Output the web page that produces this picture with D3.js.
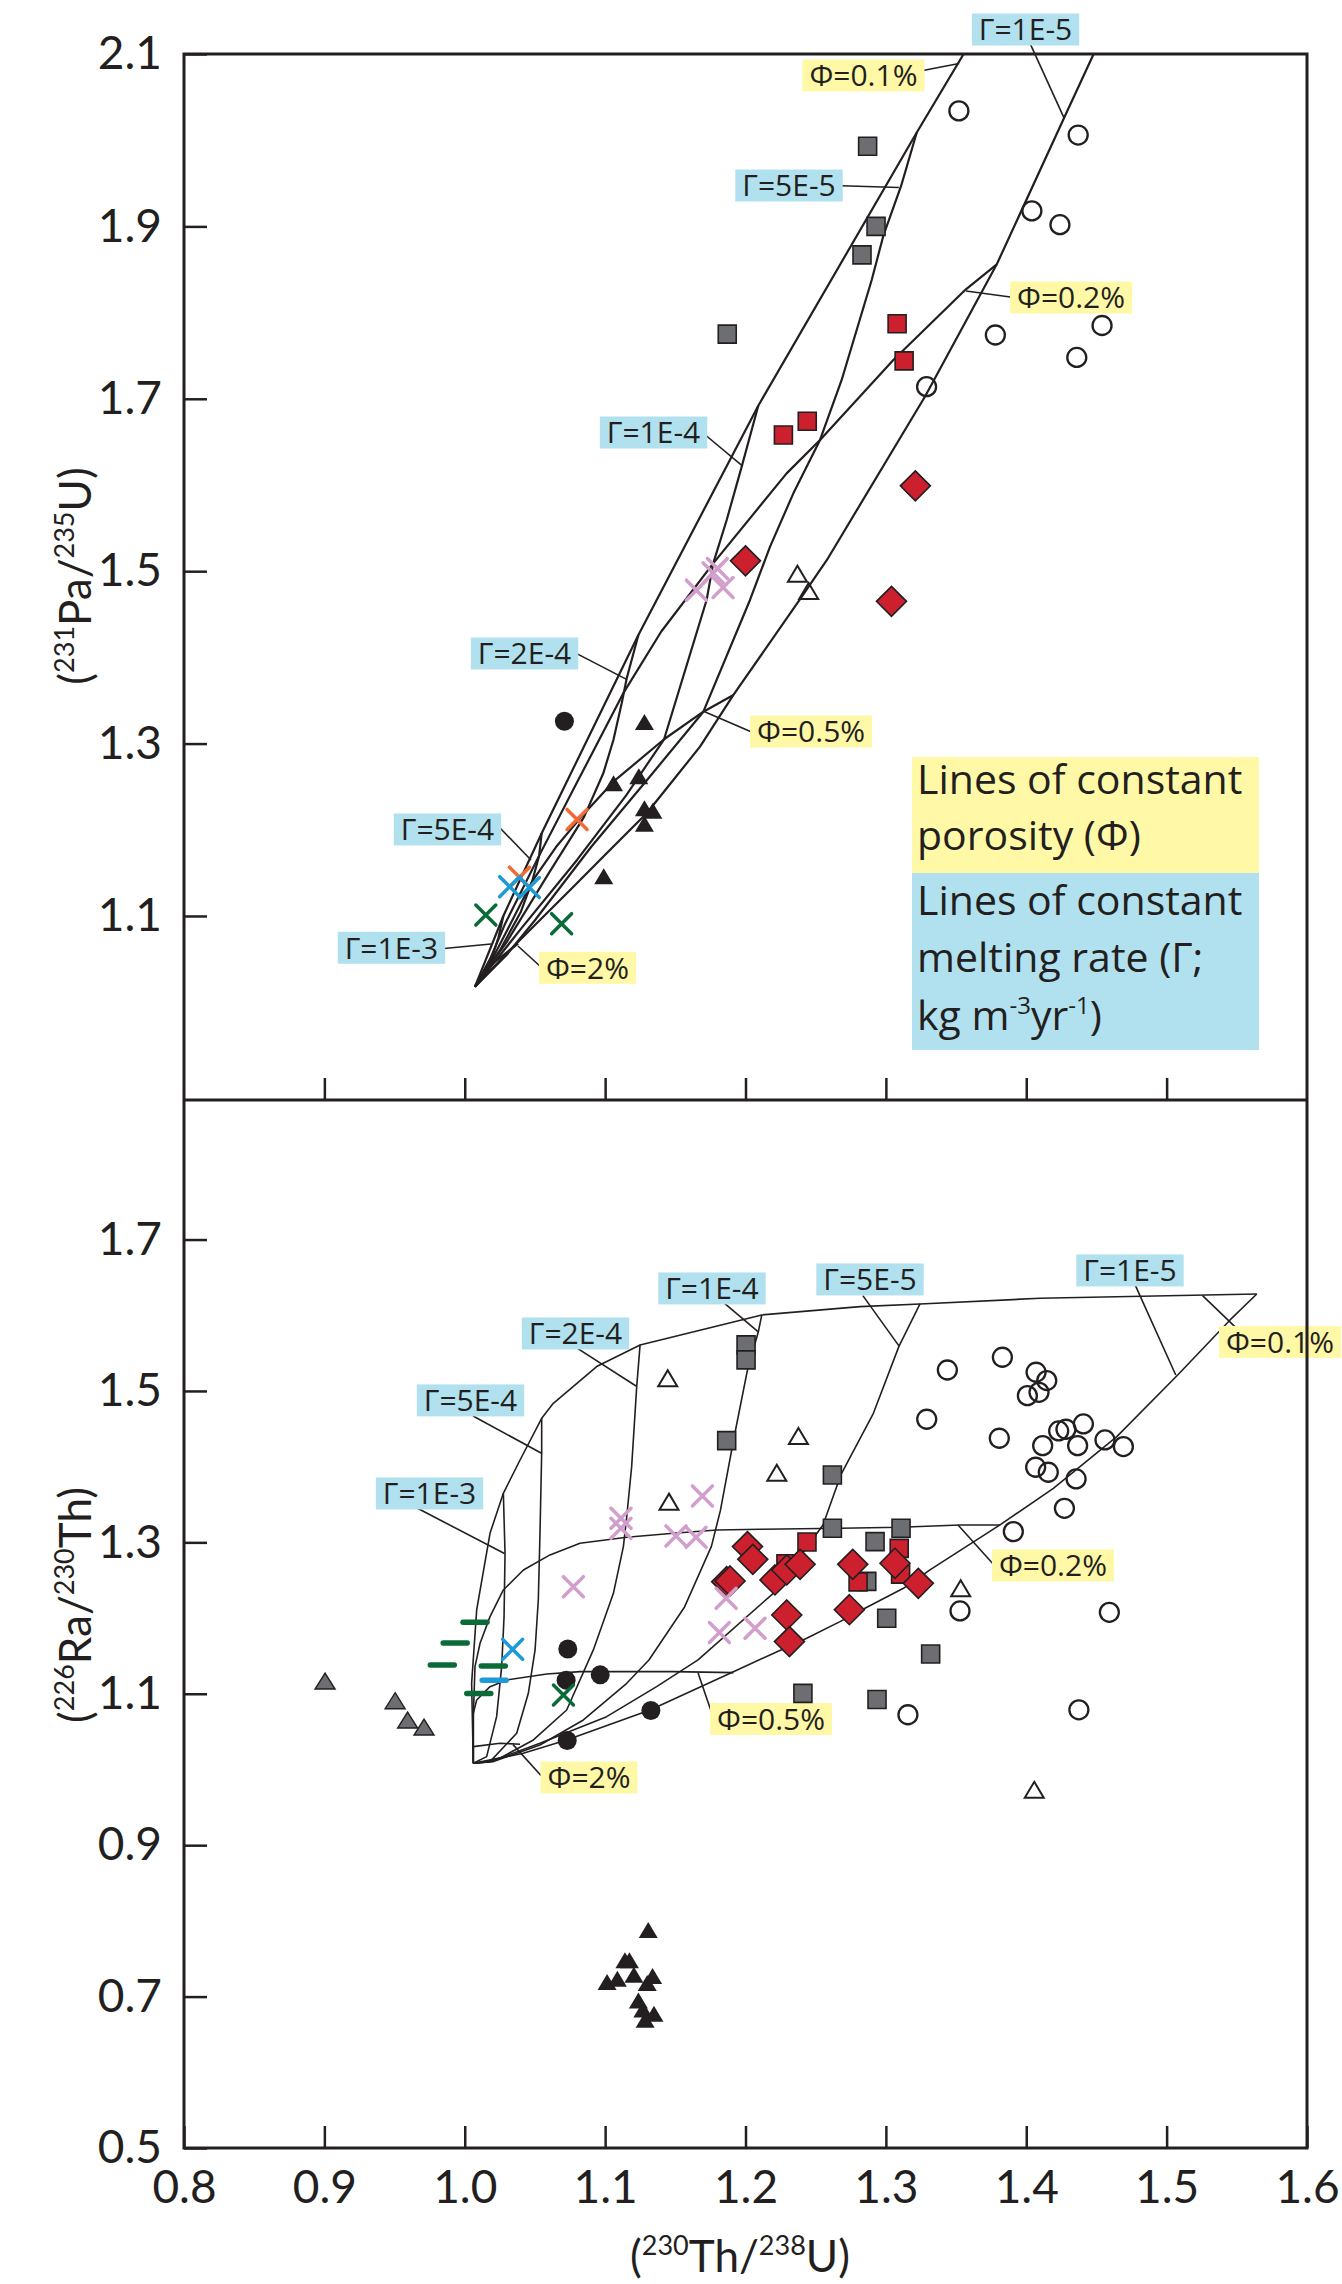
<!DOCTYPE html>
<html>
<head>
<meta charset="utf-8">
<script src="https://cdn.jsdelivr.net/npm/d3@7"></script>
<style>
body { margin: 0; background: #fff; }
svg { display: block; }
</style>
</head>
<body>
<div id="chart"></div>
<script>
// ticks
var xTicks = [0.8, 0.9, 1.0, 1.1, 1.2, 1.3, 1.4, 1.5, 1.6];
var topYTicks = [1.1, 1.3, 1.5, 1.7, 1.9, 2.1];
var botYTicks = [0.5, 0.7, 0.9, 1.1, 1.3, 1.5, 1.7];

// ---------- top panel: (231Pa/235U) vs (230Th/238U) ----------
var topOpenCircles = [[1.352,2.034],[1.437,2.006],[1.404,1.918],[1.424,1.902],[1.378,1.774],[1.454,1.785],[1.436,1.748],[1.329,1.714]];
var topGraySquares = [[1.287,1.993],[1.293,1.900],[1.283,1.867],[1.187,1.775]];
var topRedSquares = [[1.308,1.787],[1.313,1.744],[1.244,1.674],[1.227,1.658]];
var topRedDiamonds = [[1.200,1.512],[1.321,1.599],[1.304,1.465]];
var topOpenTriangles = [[1.237,1.497],[1.245,1.477]];
var topPinkCrosses = [[1.165,1.478],[1.180,1.503],[1.184,1.481],[1.177,1.498]];
var topBlackTriangles = [[1.128,1.325],[1.106,1.254],[1.124,1.262],[1.128,1.225],[1.134,1.222],[1.128,1.207],[1.099,1.146]];
var topBlackCircles = [[1.071,1.326]];
var topOrangeCrosses = [[1.080,1.212],[1.039,1.145]];
var topBlueCrosses = [[1.032,1.134],[1.046,1.133]];
var topGreenCrosses = [[1.015,1.101],[1.069,1.091]];

// model curves, top panel
var topPhi01 = [[1.0073,1.018],[1.0275,1.100],[1.0548,1.196],[1.1237,1.426],[1.2091,1.692],[1.3220,2.009],[1.3554,2.100],[1.42,2.275]];
var topPhi02 = [[1.0073,1.018],[1.018,1.05],[1.0285,1.09],[1.053,1.17],[1.08,1.255],[1.1135,1.36],[1.14,1.43],[1.177,1.509],[1.2293,1.6135],[1.2531,1.6522],[1.3053,1.745],[1.357,1.827],[1.379,1.856]];
var topPhi05 = [[1.0073,1.018],[1.018,1.045],[1.026,1.07],[1.048,1.14],[1.065,1.18],[1.083,1.215],[1.1059,1.2558],[1.142,1.305],[1.170,1.337],[1.1914,1.3564]];
var topPhi2 = [[1.0073,1.018],[1.02,1.045],[1.038,1.068]];
var topG1e5 = [[1.0073,1.018],[1.0299,1.0567],[1.0536,1.0954],[1.0774,1.1340],[1.1011,1.1727],[1.1296,1.2191],[1.1486,1.2578],[1.1676,1.2964],[1.1914,1.3564],[1.239,1.468],[1.258,1.513],[1.328,1.703],[1.379,1.856],[1.427,2.026],[1.448,2.100],[1.48,2.22]];
var topG5e5 = [[1.0073,1.018],[1.03,1.055],[1.05,1.095],[1.09,1.18],[1.13,1.258],[1.170,1.337],[1.2032,1.4666],[1.2175,1.5285],[1.2341,1.5903],[1.2531,1.6522],[1.2685,1.7218],[1.2899,1.8378],[1.2982,1.8892],[1.3109,1.9472],[1.3220,2.009]];
var topG1e4 = [[1.0073,1.018],[1.04,1.085],[1.08,1.165],[1.115,1.24],[1.142,1.305],[1.1723,1.4666],[1.177,1.509],[1.1866,1.5594],[1.1973,1.6213],[1.2091,1.692]];
var topG2e4 = [[1.0073,1.018],[1.03,1.07],[1.06,1.15],[1.085,1.215],[1.0987,1.2655],[1.1059,1.3042],[1.1118,1.3467],[1.1154,1.3757],[1.1237,1.426]];
var topG5e4 = [[1.0073,1.018],[1.025,1.06],[1.040,1.105],[1.048,1.14],[1.053,1.17],[1.0548,1.196]];
var topG1e3 = [[1.0073,1.018],[1.018,1.045],[1.024,1.075],[1.0275,1.100]];

// ---------- bottom panel: (226Ra/230Th) vs (230Th/238U) ----------
var botOpenCircles = [[1.383,1.5445],[1.3438,1.5277],[1.407,1.5247],[1.4146,1.5137],[1.4091,1.4982],[1.4008,1.4938],[1.3291,1.4626],[1.3808,1.4375],[1.4231,1.4472],[1.4283,1.4494],[1.4407,1.4564],[1.4117,1.4278],[1.4366,1.4278],[1.4561,1.4353],[1.4692,1.4265],[1.4067,1.3992],[1.4157,1.3926],[1.4355,1.3838],[1.4272,1.345],[1.3908,1.3142],[1.3528,1.2094],[1.4592,1.2076],[1.4375,1.0788],[1.3157,1.0723]];
var botGraySquares = [[1.2004,1.5608],[1.2004,1.541],[1.1866,1.4344],[1.2619,1.389],[1.2619,1.3186],[1.3108,1.3186],[1.2923,1.301],[1.2864,1.2484],[1.3006,1.1997],[1.3319,1.1525],[1.2409,1.1005],[1.2937,1.0924]];
var botRedSquares = [[1.2438,1.3005],[1.3095,1.292],[1.2802,1.2478],[1.2288,1.2717],[1.3105,1.258]];
var botRedDiamonds = [[1.2014,1.2944],[1.2052,1.2776],[1.1866,1.2481],[1.189,1.249],[1.221,1.2503],[1.2294,1.2635],[1.2389,1.271],[1.2764,1.271],[1.3065,1.2724],[1.3231,1.2459],[1.2294,1.2041],[1.2313,1.1689],[1.274,1.211]];
var botOpenTriangles = [[1.1446,1.5167],[1.2377,1.4406],[1.2223,1.3921],[1.1455,1.3538],[1.3533,1.2393],[1.4057,0.9731]];
var botPinkCrosses = [[1.1693,1.3613],[1.1113,1.3318],[1.1113,1.3186],[1.1505,1.3085],[1.1648,1.3067],[1.0774,1.2415],[1.1862,1.2261],[1.1814,1.1808],[1.2068,1.1865]];
var botBlackCircles = [[1.0734,1.1591],[1.0722,1.118],[1.0965,1.125],[1.1326,1.0778],[1.073,1.0382]];
var botBlackTriangles = [[1.1307,0.788],[1.1014,0.7192],[1.1087,0.7235],[1.1141,0.7479],[1.1173,0.7479],[1.1205,0.729],[1.1338,0.7273],[1.13,0.7181],[1.1237,0.6948],[1.1269,0.6828],[1.1348,0.6774],[1.1285,0.6693]];
var botGrayTriangles = [[0.9005,1.1168],[0.9504,1.0908],[0.9593,1.0653],[0.971,1.0561]];
var botGreenDashes = [[1.0073,1.1944],[0.9932,1.1672],[0.984,1.1381],[1.0203,1.1368],[1.01,1.1003]];
var botBlueDashes = [[1.021,1.1177]];
var botBlueCrosses = [[1.0341,1.1587]];
var botGreenCrosses = [[1.0703,1.0984]];

// model curves, bottom panel
var botPhi01 = [[1.0061,1.0082],[1.0049,1.1138],[1.0085,1.2107],[1.018,1.312],[1.0275,1.3648],[1.0394,1.4088],[1.0548,1.4639],[1.0631,1.4837],[1.094,1.5322],[1.1249,1.5608],[1.2116,1.6004],[1.2816,1.6114],[1.3243,1.6149],[1.4098,1.6224],[1.5642,1.6281]];
var botPhi02 = [[1.0061,1.0082],[1.0061,1.0698],[1.0073,1.1359],[1.0109,1.1667],[1.018,1.2019],[1.0275,1.2371],[1.0418,1.2635],[1.0607,1.2834],[1.0821,1.2988],[1.1154,1.3067],[1.1486,1.312],[1.1795,1.3164],[1.2104,1.3173],[1.2673,1.3186],[1.3101,1.3199],[1.3528,1.323],[1.3813,1.323]];
var botPhi05 = [[1.0061,1.0082],[1.0061,1.0742],[1.0085,1.0918],[1.018,1.1094],[1.0299,1.1182],[1.0584,1.1261],[1.0821,1.1292],[1.1154,1.1292],[1.1486,1.1292],[1.1914,1.1279]];
var botPhi2 = [[1.0061,1.0082],[1.0061,1.0302],[1.0251,1.0346],[1.0394,1.0333]];
var botG1e5 = [[1.0061,1.0082],[1.0417,1.0214],[1.0726,1.039],[1.132,1.0786],[1.1914,1.1292],[1.2436,1.1733],[1.2673,1.1953],[1.2851,1.2129],[1.3125,1.2393],[1.3314,1.2636],[1.3813,1.323],[1.4193,1.3714],[1.4645,1.4397],[1.5084,1.522],[1.5452,1.5938],[1.5642,1.6281]];
var botG5e5 = [[1.0061,1.0082],[1.018,1.0104],[1.0536,1.0346],[1.1011,1.0698],[1.1367,1.1094],[1.1662,1.1447],[1.2202,1.2334],[1.2552,1.323],[1.2679,1.389],[1.2911,1.4705],[1.3093,1.5589],[1.3243,1.6149]];
var botG1e4 = [[1.0061,1.0082],[1.0204,1.0104],[1.0536,1.0324],[1.0845,1.0654],[1.1154,1.1138],[1.1312,1.1447],[1.1566,1.2147],[1.1757,1.2947],[1.1821,1.3419],[1.1916,1.4362],[1.2012,1.5258],[1.2091,1.5778],[1.2116,1.6004]];
var botG2e4 = [[1.0061,1.0082],[1.0227,1.0126],[1.0489,1.039],[1.0726,1.0786],[1.0916,1.1579],[1.1059,1.2327],[1.113,1.2944],[1.1154,1.334],[1.1189,1.4],[1.1225,1.5057],[1.1249,1.5608]];
var botG5e4 = [[1.0061,1.0082],[1.018,1.0104],[1.037,1.0478],[1.0453,1.1006],[1.0501,1.1579],[1.0524,1.2239],[1.0536,1.312],[1.0548,1.4177],[1.0548,1.4639]];
var botG1e3 = [[1.0061,1.0082],[1.0156,1.017],[1.0227,1.0698],[1.0263,1.1358],[1.028,1.2019],[1.0287,1.2856],[1.0275,1.3648]];

// curve annotations: text, kind (g = melting rate, p = porosity), box centre, leader
var topNotes = [
  {t: "Γ=1E-5", k: "g", c: [1.3995, 2.1284], l: [[1.4031, 2.1109], [1.4269, 2.0259]]},
  {t: "Φ=0.1%", k: "p", c: [1.2840, 2.0751], l: [[1.3125, 2.0765], [1.3522, 2.0889]]},
  {t: "Γ=5E-5", k: "g", c: [1.2310, 1.9474], l: [[1.2682, 1.9472], [1.3093, 1.9451]]},
  {t: "Φ=0.2%", k: "p", c: [1.4319, 1.8175], l: [[1.3913, 1.8175], [1.3571, 1.8251]]},
  {t: "Γ=1E-4", k: "g", c: [1.1345, 1.6609], l: [[1.1714, 1.6580], [1.1980, 1.6220]]},
  {t: "Γ=2E-4", k: "g", c: [1.0426, 1.4045], l: [[1.0798, 1.4044], [1.1156, 1.3742]]},
  {t: "Φ=0.5%", k: "p", c: [1.2467, 1.3140], l: [[1.2060, 1.3123], [1.1709, 1.3369]]},
  {t: "Γ=5E-4", k: "g", c: [0.9877, 1.2004], l: [[1.0251, 1.2021], [1.0472, 1.1650]]},
  {t: "Γ=1E-3", k: "g", c: [0.9478, 1.0631], l: [[0.9852, 1.0622], [1.0187, 1.0675]]},
  {t: "Φ=2%", k: "p", c: [1.0874, 1.0399], l: [[1.0543, 1.0408], [1.0379, 1.0652]]}
];
var botNotes = [
  {t: "Γ=1E-5", k: "g", c: [1.4739, 1.6592], l: [[1.4778, 1.6391], [1.5065, 1.5211]]},
  {t: "Γ=5E-5", k: "g", c: [1.2887, 1.6473], l: [[1.2836, 1.6259], [1.3093, 1.5595]]},
  {t: "Γ=1E-4", k: "g", c: [1.1761, 1.6354], l: [[1.1853, 1.6154], [1.2091, 1.5779]]},
  {t: "Γ=2E-4", k: "g", c: [1.0789, 1.5760], l: [[1.0792, 1.5575], [1.1220, 1.5066]]},
  {t: "Γ=5E-4", k: "g", c: [1.0041, 1.4875], l: [[1.0059, 1.4670], [1.0550, 1.4173]]},
  {t: "Γ=1E-3", k: "g", c: [0.9749, 1.3646], l: [[0.9660, 1.3454], [1.0283, 1.2852]]},
  {t: "Φ=0.1%", k: "p", c: [1.5890, 1.5647], l: [[1.5540, 1.5753], [1.5256, 1.6259]]},
  {t: "Φ=0.2%", k: "p", c: [1.4190, 1.2695], l: [[1.3777, 1.2688], [1.3514, 1.3230]]},
  {t: "Φ=0.5%", k: "p", c: [1.2182, 1.0667], l: [[1.1767, 1.0707], [1.1662, 1.1275]]},
  {t: "Φ=2%", k: "p", c: [1.0885, 0.9894], l: [[1.0543, 0.9921], [1.0344, 1.0328]]}
];

// ---------------------------------------------------------
var W = 1342, H = 2284;
var L = 184, R = 1307, T = 54, M = 1100, B = 2148;
var ink = "#231f20", gray = "#6d6e71", red = "#cc202e";
var blueBox = "#b1e1ee", yellowBox = "#fff8a6";
var numFont = "Lato, 'Open Sans', sans-serif";
var txtFont = "'Open Sans', 'Noto Sans', sans-serif";

var x = d3.scaleLinear().domain([0.8, 1.6]).range([L, R]);
var yTop = d3.scaleLinear().domain([0.8865, 2.1]).range([M, T]);
var yBot = d3.scaleLinear().domain([0.5, 1.883]).range([B, M + 1]);

var svg = d3.select("#chart").append("svg")
  .attr("width", W).attr("height", H)
  .attr("viewBox", "0 0 " + W + " " + H);

var defs = svg.append("defs");
defs.append("clipPath").attr("id", "clipTop").append("rect")
  .attr("x", L).attr("y", T).attr("width", R - L).attr("height", M - T);
defs.append("clipPath").attr("id", "clipBot").append("rect")
  .attr("x", L).attr("y", M).attr("width", R - L).attr("height", B - M);

// shapes
function circleD(r) {
  return "M" + (-r) + ",0A" + r + "," + r + " 0 1,0 " + r + ",0A" + r + "," + r + " 0 1,0 " + (-r) + ",0Z";
}
function squareD(s) { return "M" + (-s) + "," + (-s) + "h" + 2 * s + "v" + 2 * s + "h" + (-2 * s) + "Z"; }
function diamondD(s) { return "M0," + (-s) + "L" + s + ",0L0," + s + "L" + (-s) + ",0Z"; }
function triD(w, h) { return "M0," + (-h / 2) + "L" + (w / 2) + "," + (h / 2) + "L" + (-w / 2) + "," + (h / 2) + "Z"; }
function crossD(s) { return "M" + (-s) + "," + (-s) + "L" + s + "," + s + "M" + (-s) + "," + s + "L" + s + "," + (-s); }
function dashD(w) { return "M" + (-w / 2) + ",0H" + (w / 2); }

var styles = {
  openCircle: {d: circleD(9.5), fill: "none", stroke: ink, sw: 2.3},
  blackCircle: {d: circleD(9.5), fill: ink, stroke: "none", sw: 0},
  graySquare: {d: squareD(9), fill: gray, stroke: ink, sw: 1.6},
  redSquare: {d: squareD(9), fill: red, stroke: ink, sw: 1.6},
  redDiamond: {d: diamondD(15), fill: red, stroke: ink, sw: 1.6},
  blackTri: {d: triD(19, 16), fill: ink, stroke: "none", sw: 0},
  grayTri: {d: triD(20, 16), fill: gray, stroke: ink, sw: 1.4},
  openTri: {d: triD(19, 16), fill: "none", stroke: ink, sw: 2},
  pinkX: {d: crossD(10), fill: "none", stroke: "#d29fcc", sw: 3.5},
  orangeX: {d: crossD(10), fill: "none", stroke: "#f26b36", sw: 3.5},
  blueX: {d: crossD(10), fill: "none", stroke: "#1e9ad6", sw: 3.5},
  greenX: {d: crossD(10), fill: "none", stroke: "#0a6b39", sw: 3.5},
  greenDash: {d: dashD(24), fill: "none", stroke: "#0a6b39", sw: 5.5},
  blueDash: {d: dashD(24), fill: "none", stroke: "#1e9ad6", sw: 5.5}
};

function drawMarks(g, data, y, s) {
  var st = styles[s];
  g.append("g").selectAll("path").data(data).enter().append("path")
    .attr("transform", function(d) { return "translate(" + x(d[0]) + "," + y(d[1]) + ")"; })
    .attr("d", st.d)
    .attr("fill", st.fill)
    .attr("stroke", st.stroke)
    .attr("stroke-width", st.sw)
    .attr("stroke-linecap", "round");
}

function drawCurves(g, curves, y, sw) {
  var line = d3.line().x(function(d) { return x(d[0]); }).y(function(d) { return y(d[1]); });
  g.selectAll("path.model").data(curves).enter().append("path")
    .attr("class", "model")
    .attr("d", line)
    .attr("fill", "none")
    .attr("stroke", ink)
    .attr("stroke-width", sw)
    .attr("stroke-linejoin", "round");
}

function drawNotes(g, notes, y) {
  var line = d3.line().x(function(d) { return x(d[0]); }).y(function(d) { return y(d[1]); });
  notes.forEach(function(d) {
    g.append("path").attr("d", line(d.l))
      .attr("fill", "none").attr("stroke", ink).attr("stroke-width", 1.6);
    var cx = x(d.c[0]), cy = y(d.c[1]);
    var box = g.append("rect").attr("fill", d.k == "g" ? blueBox : yellowBox);
    var txt = g.append("text")
      .attr("x", cx).attr("y", cy).attr("dy", "0.36em")
      .attr("text-anchor", "middle")
      .attr("font-family", txtFont).attr("font-size", 30)
      .attr("fill", ink)
      .text(d.t);
    var w = txt.node().getComputedTextLength();
    // keep the box inside the picture
    if (cx + w / 2 + 8 > W) {
      cx = W - w / 2 - 8;
      txt.attr("x", cx);
    }
    box.attr("x", cx - w / 2 - 7).attr("y", cy - 16).attr("width", w + 14).attr("height", 32);
  });
}

// ---------- top panel ----------
var topCurves = svg.append("g").attr("clip-path", "url(#clipTop)");
drawCurves(topCurves, [topPhi01, topPhi02, topPhi05, topPhi2, topG1e5, topG5e5, topG1e4, topG2e4, topG5e4, topG1e3], yTop, 2.2);
drawNotes(svg.append("g"), topNotes, yTop);

var topMarks = svg.append("g");
drawMarks(topMarks, topOpenCircles, yTop, "openCircle");
drawMarks(topMarks, topGraySquares, yTop, "graySquare");
drawMarks(topMarks, topRedSquares, yTop, "redSquare");
drawMarks(topMarks, topRedDiamonds, yTop, "redDiamond");
drawMarks(topMarks, topOpenTriangles, yTop, "openTri");
drawMarks(topMarks, topPinkCrosses, yTop, "pinkX");
drawMarks(topMarks, topBlackTriangles, yTop, "blackTri");
drawMarks(topMarks, topBlackCircles, yTop, "blackCircle");
drawMarks(topMarks, topOrangeCrosses, yTop, "orangeX");
drawMarks(topMarks, topBlueCrosses, yTop, "blueX");
drawMarks(topMarks, topGreenCrosses, yTop, "greenX");

// legend boxes
var leg = svg.append("g").attr("font-family", txtFont).attr("font-size", 41).attr("fill", ink);
leg.append("rect").attr("x", 912).attr("y", 757).attr("width", 347).attr("height", 116).attr("fill", yellowBox);
leg.append("rect").attr("x", 912).attr("y", 873).attr("width", 347).attr("height", 177).attr("fill", blueBox);
leg.append("text").attr("x", 917).attr("y", 794).text("Lines of constant");
leg.append("text").attr("x", 917).attr("y", 850).text("porosity (Φ)");
leg.append("text").attr("x", 917).attr("y", 915).text("Lines of constant");
leg.append("text").attr("x", 917).attr("y", 972).text("melting rate (Γ;");
var kg = leg.append("text").attr("x", 917).attr("y", 1030);
kg.append("tspan").text("kg m");
kg.append("tspan").attr("font-size", 24).attr("dy", -16).text("-3");
kg.append("tspan").attr("dy", 16).text("yr");
kg.append("tspan").attr("font-size", 24).attr("dy", -16).text("-1");
kg.append("tspan").attr("dy", 16).text(")");

// ---------- bottom panel ----------
var botCurves = svg.append("g").attr("clip-path", "url(#clipBot)");
drawCurves(botCurves, [botPhi01, botPhi02, botPhi05, botPhi2, botG1e5, botG5e5, botG1e4, botG2e4, botG5e4, botG1e3], yBot, 1.6);
drawNotes(svg.append("g"), botNotes, yBot);

var botMarks = svg.append("g");
drawMarks(botMarks, botOpenCircles, yBot, "openCircle");
drawMarks(botMarks, botGraySquares, yBot, "graySquare");
drawMarks(botMarks, botRedSquares, yBot, "redSquare");
drawMarks(botMarks, botRedDiamonds, yBot, "redDiamond");
drawMarks(botMarks, botOpenTriangles, yBot, "openTri");
drawMarks(botMarks, botPinkCrosses, yBot, "pinkX");
drawMarks(botMarks, botBlackCircles, yBot, "blackCircle");
drawMarks(botMarks, botBlackTriangles, yBot, "blackTri");
drawMarks(botMarks, botGrayTriangles, yBot, "grayTri");
drawMarks(botMarks, botGreenDashes, yBot, "greenDash");
drawMarks(botMarks, botBlueDashes, yBot, "blueDash");
drawMarks(botMarks, botBlueCrosses, yBot, "blueX");
drawMarks(botMarks, botGreenCrosses, yBot, "greenX");

// ---------- axes ----------
function styleAxis(g) {
  g.select(".domain").remove();
  g.selectAll(".tick line").attr("stroke", ink).attr("stroke-width", 2.5);
  g.selectAll(".tick text").attr("font-family", numFont).attr("font-size", 46).attr("fill", ink);
}
var fmt = d3.format(".1f");

svg.append("g").attr("transform", "translate(" + L + ",0)")
  .call(d3.axisLeft(yTop).tickValues(topYTicks).tickFormat(fmt).tickSizeInner(-23).tickSizeOuter(0).tickPadding(22))
  .call(styleAxis);
svg.append("g").attr("transform", "translate(" + L + ",0)")
  .call(d3.axisLeft(yBot).tickValues(botYTicks).tickFormat(fmt).tickSizeInner(-23).tickSizeOuter(0).tickPadding(22))
  .call(styleAxis);
svg.append("g").attr("transform", "translate(0," + M + ")")
  .call(d3.axisBottom(x).tickValues(xTicks.slice(1, -1)).tickFormat("").tickSizeInner(-22).tickSizeOuter(0))
  .call(styleAxis);
svg.append("g").attr("transform", "translate(0," + B + ")")
  .call(d3.axisBottom(x).tickValues(xTicks).tickFormat(fmt).tickSizeInner(-22).tickSizeOuter(0).tickPadding(22))
  .call(styleAxis);

// frame
svg.append("rect").attr("x", L).attr("y", T).attr("width", R - L).attr("height", B - T)
  .attr("fill", "none").attr("stroke", ink).attr("stroke-width", 3);
svg.append("line").attr("x1", L).attr("x2", R).attr("y1", M).attr("y2", M)
  .attr("stroke", ink).attr("stroke-width", 3);

// axis titles
function title(g, parts) {
  var t = g.append("text").attr("text-anchor", "middle")
    .attr("font-family", numFont).attr("font-size", 44).attr("fill", ink);
  parts.forEach(function(p) {
    if (p.sup) {
      t.append("tspan").attr("font-size", 27).attr("dy", -17).text(p.s);
    } else {
      t.append("tspan").attr("dy", p.after ? 17 : 0).text(p.s);
    }
  });
  return t;
}
title(svg.append("g").attr("transform", "translate(91,576) rotate(-90)"),
  [{s: "("}, {s: "231", sup: true}, {s: "Pa/", after: true}, {s: "235", sup: true}, {s: "U)", after: true}]);
title(svg.append("g").attr("transform", "translate(91,1605) rotate(-90)"),
  [{s: "("}, {s: "226", sup: true}, {s: "Ra/", after: true}, {s: "230", sup: true}, {s: "Th)", after: true}]);
title(svg.append("g").attr("transform", "translate(740,2272)"),
  [{s: "("}, {s: "230", sup: true}, {s: "Th/", after: true}, {s: "238", sup: true}, {s: "U)", after: true}]);
</script>
</body>
</html>
